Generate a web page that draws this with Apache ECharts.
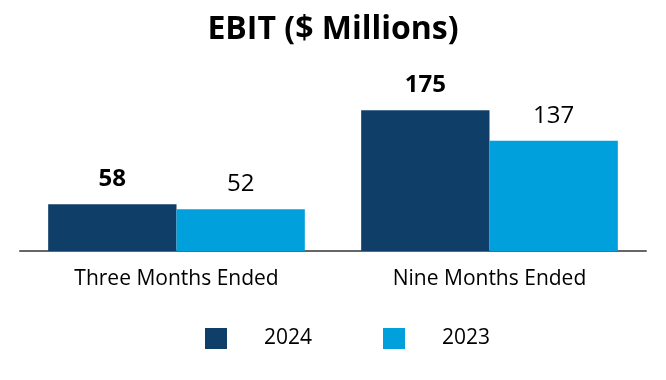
<!DOCTYPE html>
<html>
<head>
<meta charset="utf-8">
<script src="https://cdn.jsdelivr.net/npm/echarts@6/dist/echarts.min.js"></script>
<style>html,body{margin:0;padding:0;background:#fff}#c{width:666px;height:380px}</style>
</head>
<body>
<div id="c"></div>
<script>
var categories = ['Three Months Ended', 'Nine Months Ended'];
var series2024 = [58, 175];
var series2023 = [52, 137];
var seriesNames = ['2024', '2023'];

var chart = echarts.init(document.getElementById('c'), null, {renderer: 'canvas'});
var font = 'Open Sans';
function legendAt(left, name) {
  return {
    left: left,
    top: 328,
    padding: 0,
    itemWidth: 22,
    itemHeight: 21,
    icon: 'rect',
    textStyle: {fontFamily: font, fontSize: 21, color: '#000', padding: [0, 0, 0, 32]},
    data: [name]
  };
}
chart.setOption({
  animation: false,
  title: {
    text: 'EBIT ($ Millions)',
    left: 'center',
    top: 9,
    textStyle: {fontFamily: font, fontSize: 32, fontWeight: 'bold', color: '#000'}
  },
  legend: [legendAt(205, seriesNames[0]), legendAt(383, seriesNames[1])],
  grid: {left: 20, right: 20, top: 90, bottom: 129, containLabel: false},
  xAxis: {
    type: 'category',
    data: categories,
    axisLine: {lineStyle: {color: '#666', width: 2}},
    axisTick: {show: false},
    axisLabel: {fontFamily: font, fontSize: 21, color: '#000', margin: 18}
  },
  yAxis: {
    type: 'value', min: 0, max: 200,
    show: false
  },
  series: [
    {
      name: seriesNames[0], type: 'bar', data: series2024,
      barGap: '0%', barCategoryGap: '18%',
      itemStyle: {color: '#0f3f68'},
      label: {show: true, position: 'top', distance: 13, fontFamily: font, fontSize: 24, fontWeight: 'bold', color: '#000'}
    },
    {
      name: seriesNames[1], type: 'bar', data: series2023,
      itemStyle: {color: '#00a0dc'},
      label: {show: true, position: 'top', distance: 13, fontFamily: font, fontSize: 24, color: '#000'}
    }
  ]
});
</script>
</body>
</html>
